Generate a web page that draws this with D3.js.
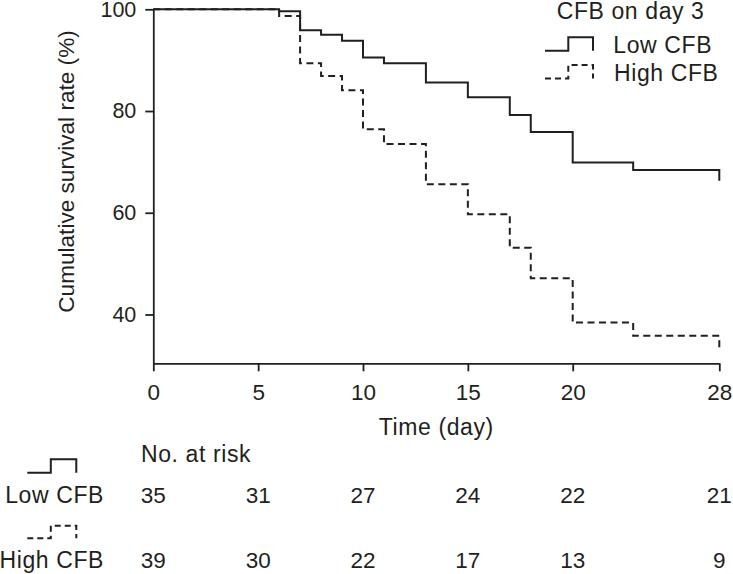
<!DOCTYPE html>
<html>
<head>
<meta charset="utf-8">
<script src="https://cdn.jsdelivr.net/npm/d3@7"></script>
<style>
  html, body { margin: 0; padding: 0; background: #ffffff; }
  svg { display: block; }
  text { font-family: "Liberation Sans", Arial, Helvetica, sans-serif; fill: #231f20; }
  .word { font-size: 23px; letter-spacing: 0.6px; }
  .num { font-size: 22.5px; }
</style>
</head>
<body>
<svg id="chart" width="733" height="574"></svg>
<script>
// ---- data ----
const seriesNames = ["Low CFB", "High CFB"];
const lowDays  = [0, 6, 7, 8, 9, 10, 11, 13, 15, 17, 18, 20, 23.3, 28];
const lowSurv  = [100, 99.6, 95.9, 95.0, 93.8, 90.5, 89.4, 85.6, 82.7, 79.2, 75.9, 69.9, 68.4, 66.3];
const highDays = [0, 6, 7, 8, 9, 10, 11, 13, 15, 17, 18, 20, 23.3, 28];
const highSurv = [100, 98.7, 89.4, 86.9, 84.1, 76.4, 73.5, 65.6, 59.7, 53.1, 47.1, 38.4, 35.8, 33.4];
const xTicks = [0, 5, 10, 15, 20, 28];
const yTicks = [40, 60, 80, 100];
const riskLow  = [35, 31, 27, 24, 22, 21];
const riskHigh = [39, 30, 22, 17, 13, 9];

// ---- layout ----
const ink = "#231f20";
const svg = d3.select("#chart");

const x = d3.scaleLinear().domain([0, 20, 28]).range([153.3, 572.7, 719.3]);
const y = d3.scaleLinear().domain([30.4, 100]).range([363.3, 9.3]);

// axes
const xAxis = svg.append("g")
  .attr("transform", `translate(0,${y(30.4)})`)
  .call(d3.axisBottom(x).tickValues(xTicks).tickFormat(d3.format("d")).tickSize(8).tickSizeOuter(0).tickPadding(13));
const yAxis = svg.append("g")
  .attr("transform", `translate(${x(0)},0)`)
  .call(d3.axisLeft(y).tickValues(yTicks).tickFormat(d3.format("d")).tickSize(8).tickSizeOuter(0).tickPadding(9));

[xAxis, yAxis].forEach(g => {
  g.attr("font-family", null).attr("font-size", null);
  g.selectAll("path.domain").attr("stroke", ink).attr("stroke-width", 1.8);
  g.selectAll(".tick line").attr("stroke", ink).attr("stroke-width", 1.8);
  g.selectAll(".tick text").style("fill", ink);
});
xAxis.selectAll(".tick text").style("font-size", "22.5px");
yAxis.selectAll(".tick text").style("font-size", "21.5px");

// axis titles
svg.append("text").attr("class", "word")
  .attr("x", (x(0) + x(28)) / 2).attr("y", 434.5)
  .attr("text-anchor", "middle")
  .text("Time (day)");
svg.append("text")
  .attr("transform", "translate(74,171.5) rotate(-90)")
  .attr("text-anchor", "middle").style("font-size", "22.6px")
  .text("Cumulative survival rate (%)");

// survival curves
const line = d3.line().x(d => x(d[0])).y(d => y(d[1])).curve(d3.curveStepAfter);
const lowPts = lowDays.map((d, i) => [d, lowSurv[i]]);
const highPts = highDays.map((d, i) => [d, highSurv[i]]);
const dash = "7,4.5";

svg.append("path").datum(lowPts)
  .attr("d", line).attr("fill", "none").attr("stroke", ink).attr("stroke-width", 2);
svg.append("path").datum(highPts)
  .attr("d", line).attr("fill", "none").attr("stroke", ink).attr("stroke-width", 2)
  .attr("stroke-dasharray", dash);

// legend sample shape generator
function sample(g, ox, oy, w, step, h, dashed) {
  const pts = [[0, h], [step, h], [step, 0], [w, 0], [w, h]];
  g.append("path")
    .attr("d", d3.line()(pts.map(p => [ox + p[0], oy + p[1]])))
    .attr("fill", "none").attr("stroke", ink).attr("stroke-width", 2)
    .attr("stroke-dasharray", dashed ? "6,4" : null);
}

// top-right legend
const leg = svg.append("g");
leg.append("text").attr("class", "word").attr("x", 556.7).attr("y", 19).text("CFB on day 3");
sample(leg, 545, 37.3, 48, 23.3, 13.4, false);
sample(leg, 545, 65, 48, 23.3, 13.4, true);
leg.append("text").attr("class", "word").attr("x", 613.3).attr("y", 53.3).text(seriesNames[0]);
leg.append("text").attr("class", "word").attr("x", 614).attr("y", 81).text(seriesNames[1]);

// number at risk table
const tbl = svg.append("g");
tbl.append("text").attr("class", "word").attr("x", 141).attr("y", 461.7).text("No. at risk");
sample(tbl, 27.3, 459.3, 49, 23.5, 13.4, false);
sample(tbl, 27.3, 525.7, 49, 23.5, 12.6, true);
tbl.append("text").attr("class", "word").attr("x", 104).attr("y", 502.7).attr("text-anchor", "end").text(seriesNames[0]);
tbl.append("text").attr("class", "word").attr("x", 104).attr("y", 567.7).attr("text-anchor", "end").text(seriesNames[1]);
tbl.selectAll("text.rl").data(riskLow).enter().append("text").attr("class", "rl num")
  .attr("x", (d, i) => x(xTicks[i])).attr("y", 502.7).attr("text-anchor", "middle").text(d => d);
tbl.selectAll("text.rh").data(riskHigh).enter().append("text").attr("class", "rh num")
  .attr("x", (d, i) => x(xTicks[i])).attr("y", 567.7).attr("text-anchor", "middle").text(d => d);
</script>
</body>
</html>
